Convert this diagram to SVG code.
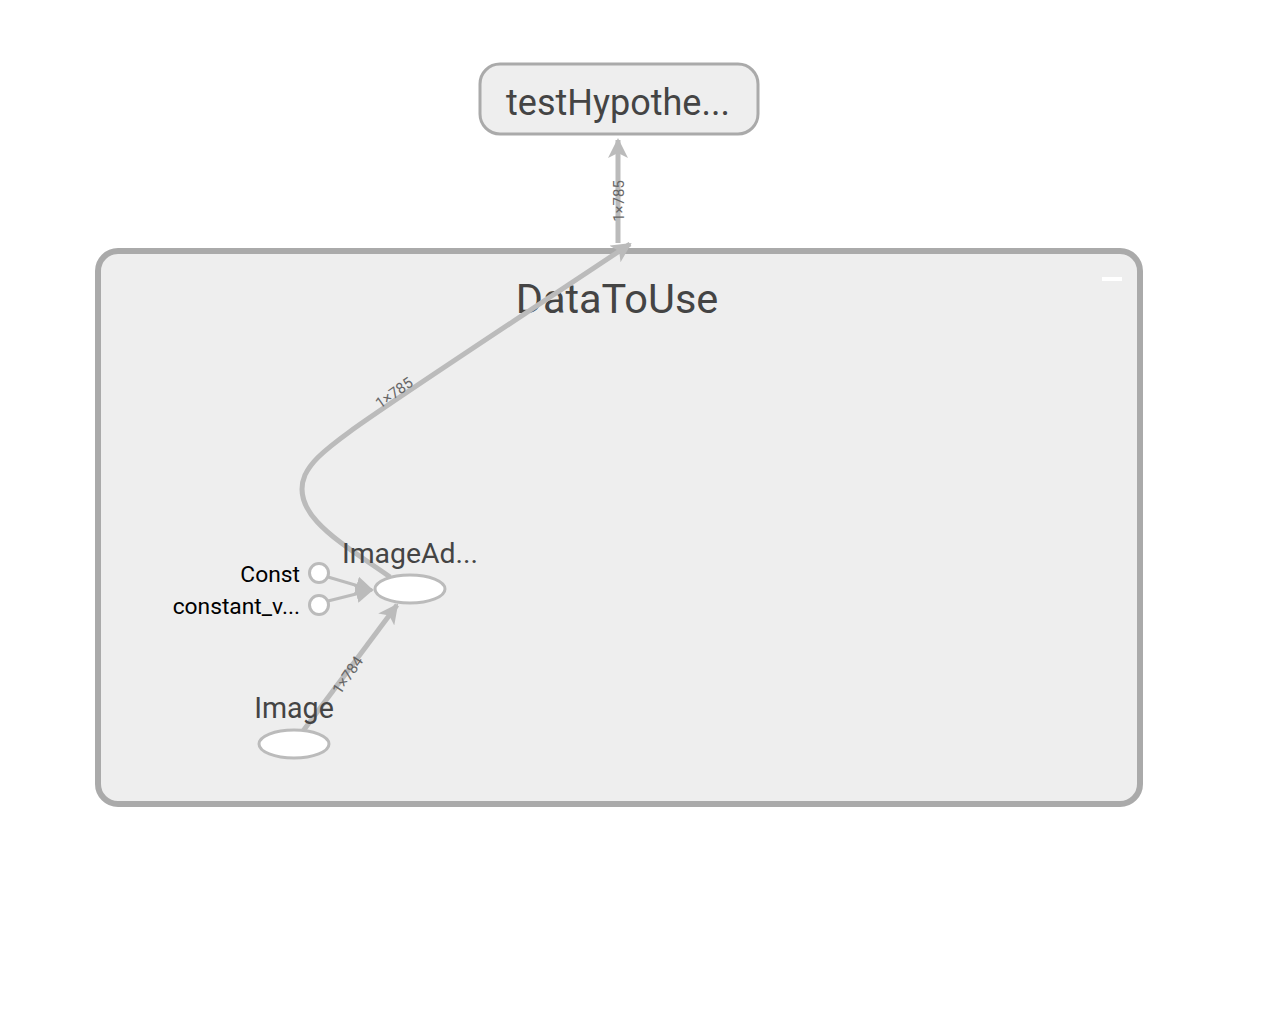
<svg xmlns="http://www.w3.org/2000/svg" width="1268" height="1010" viewBox="0 0 1268 1010">
<style>
.edge{fill:none;stroke:#bbb;stroke-width:5}
.edgethin{fill:none;stroke:#bbb;stroke-width:3}
.elabel{font-family:Roboto,"Liberation Sans",sans-serif;font-size:15px;fill:#666}
.op{fill:#fff;stroke:#bbb;stroke-width:3}
.lbl{font-family:Roboto,"Liberation Sans",sans-serif;fill:#444}
.clbl{font-family:Roboto,"Liberation Sans",sans-serif;fill:#000;font-size:22.8px}
</style>
<defs>
<marker id="ah" viewBox="0 0 10 10" refX="9" refY="5" markerWidth="4" markerHeight="4" orient="auto" markerUnits="strokeWidth">
<path d="M0,0 L10,5 L0,10 L2.5,5 Z" fill="#bbb"/>
</marker>
<marker id="ah2" viewBox="0 0 10 10" refX="9" refY="5" markerWidth="6" markerHeight="6" orient="auto" markerUnits="strokeWidth">
<path d="M0,0 L10,5 L0,10 Z" fill="#bbb"/>
</marker>
</defs>
<rect width="1268" height="1010" fill="#fff"/>
<g id="DataToUse">
<rect x="98" y="251" width="1042" height="553" rx="20" fill="#eee" stroke="#aaa" stroke-width="6"/>
<text class="lbl" x="617" y="313" font-size="41.5" text-anchor="middle">DataToUse</text>
<rect x="1102" y="277" width="20" height="4" fill="#fff"/>
</g>
<g id="testHypothe">
<rect x="480" y="64" width="278" height="70" rx="20" fill="#eee" stroke="#aaa" stroke-width="3"/>
<text class="lbl" x="618" y="115" font-size="36" text-anchor="middle">testHypothe...</text>
</g>
<g id="connectors">
<path class="edge" d="M618,243 L618,140" marker-end="url(#ah)"/>
<text class="elabel" transform="translate(624,201) rotate(-90)" text-anchor="middle">1×785</text>
<path class="edge" d="M390,577 C345,545 288,515 305,475 C318,448 350,430 630,244" marker-end="url(#ah)"/>
<text class="elabel" transform="translate(397,397) rotate(-35)" text-anchor="middle">1×785</text>
<path class="edgethin" d="M328,577 L372,590" marker-end="url(#ah2)"/>
<path class="edgethin" d="M328,601 L372,590" marker-end="url(#ah2)"/>
<path class="edge" d="M303,731 L397,605" marker-end="url(#ah)"/>
<text class="elabel" transform="translate(352,678) rotate(-56)" text-anchor="middle">1×784</text>
</g>
<g id="ImageAd">
<ellipse class="op" cx="410" cy="589" rx="35" ry="14"/>
<text class="lbl" x="410" y="563" font-size="28.4" text-anchor="middle">ImageAd...</text>
</g>
<g id="Const">
<circle class="op" cx="319" cy="573" r="9.5"/>
<text class="clbl" x="300" y="582" text-anchor="end">Const</text>
</g>
<g id="constant_v">
<circle class="op" cx="319" cy="605" r="9.5"/>
<text class="clbl" x="300" y="614" text-anchor="end">constant_v...</text>
</g>
<g id="Image">
<ellipse class="op" cx="294" cy="744" rx="35" ry="14"/>
<text class="lbl" x="294" y="718" font-size="28.6" text-anchor="middle">Image</text>
</g>
</svg>
